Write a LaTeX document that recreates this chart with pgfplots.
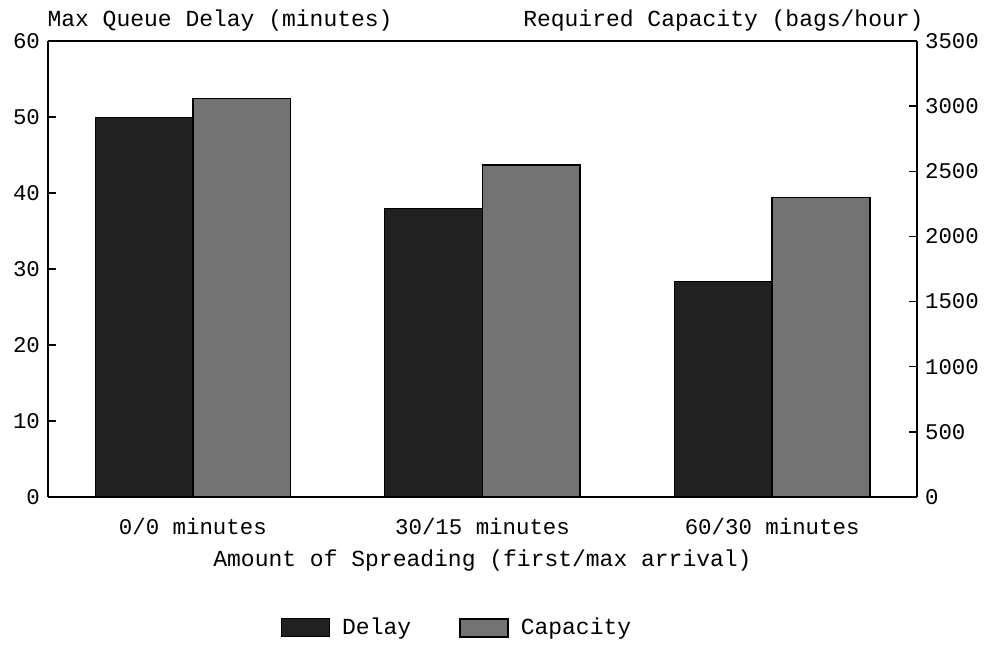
\documentclass[border=0pt]{standalone}
\usepackage{pgfplots}
\pgfplotsset{compat=1.18}
\usepackage{fontspec}
\setmainfont{Liberation Mono}
\definecolor{delayc}{gray}{0.13}
\definecolor{capc}{gray}{0.45}
\begin{document}
\fontsize{11.5pt}{13pt}\selectfont
\begin{tikzpicture}
\pgfplotsset{
  every axis/.append style={
    scale only axis, width=434.5pt, height=228pt,
    at={(0,0)}, anchor=south west,
    xmin=-0.5, xmax=2.5, ymin=0,
    clip=false,
    tick align=inside,
    major tick length=4pt,
    /pgf/number format/assume math mode=true,
    /pgf/number format/1000 sep={},
    tick label style={font=\fontsize{11.2pt}{13pt}\selectfont},
    label style={font=\fontsize{11.5pt}{13pt}\selectfont},
    axis line style={line width=0.7pt},
    every tick/.style={line width=0.7pt, black},
  }
}
\begin{axis}[
  axis y line*=left,
  ymax=60, ytick={0,10,...,60},
  xtick={0,1,2},
  xticklabels={0/0 minutes, 30/15 minutes, 60/30 minutes},
  x tick style={draw=none},
  xticklabel style={yshift=-2.5pt},
  xlabel={Amount of Spreading (first/max arrival)},
  xlabel style={at={(axis description cs:0.5,-0.14)}, anchor=center},
  ybar, bar width=0.337, bar shift=-0.1685,
]
\addplot[fill=delayc, draw=black, line width=0.5pt] coordinates {(0,50) (1,38) (2,28.4)};
\node[anchor=base west, inner sep=0pt, font=\fontsize{11.5pt}{13pt}\selectfont] at (axis description cs:-0.001,1.031) {Max Queue Delay (minutes)};
\end{axis}
\begin{axis}[
  axis y line*=right,
  axis x line=none,
  ymax=3500, ytick={0,500,...,3500},
  ybar, bar width=0.337, bar shift=0.1685,
  legend columns=2,
  legend style={at={(axis description cs:0.472,-0.287)}, anchor=center, draw=none, fill=none,
    /tikz/every odd column/.append style={column sep=4pt},
    /tikz/every even column/.append style={column sep=22pt},
    font=\fontsize{11.5pt}{13pt}\selectfont},
  legend image code/.code={\draw[#1] (0pt,-4.5pt) rectangle (24pt,4.5pt);},
]
\addlegendimage{fill=delayc, draw=black, line width=0.5pt}
\addlegendentry{Delay}
\addplot[fill=capc, draw=black, line width=0.8pt] coordinates {(0,3060) (1,2550) (2,2300)};
\addlegendentry{Capacity}
\node[anchor=base east, inner sep=0pt, font=\fontsize{11.5pt}{13pt}\selectfont] at (axis description cs:1.008,1.031) {Required Capacity (bags/hour)};
\end{axis}
\pgfresetboundingbox
\path[use as bounding box] (-24pt,-75pt) rectangle (469pt,248.5pt);
\end{tikzpicture}
\end{document}
